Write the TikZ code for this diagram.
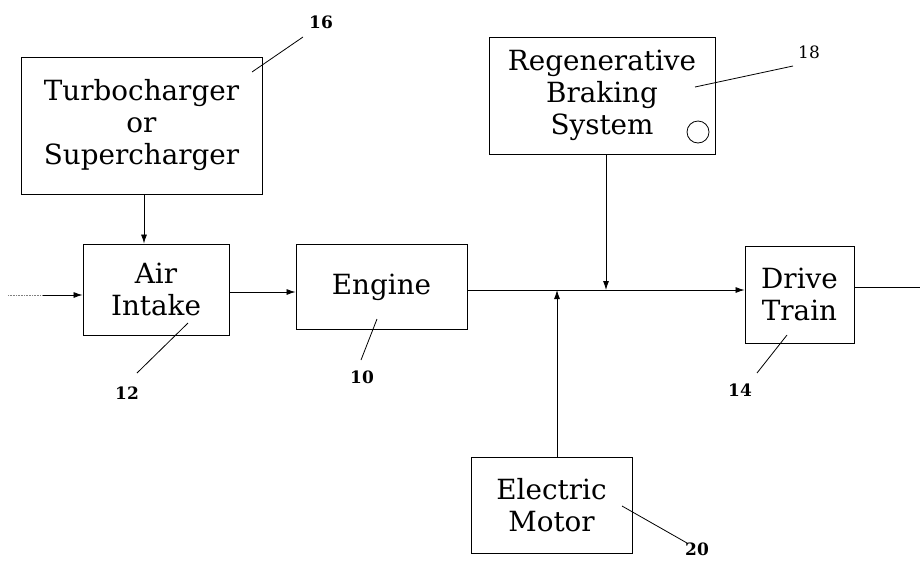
\documentclass[tikz,border=0pt]{standalone}
\usepackage{fontspec}
\setmainfont{DejaVu Serif}
\usetikzlibrary{arrows.meta}
\tikzset{
  box/.style={draw, line width=0.9pt, rectangle, inner sep=0pt, align=center,
              font=\fontsize{27.8}{32}\selectfont},
  arr/.style={line width=0.8pt, -{Latex[length=9pt,width=6pt]}},
  wire/.style={line width=0.8pt},
  lead/.style={line width=0.8pt},
  refnum/.style={font=\fontsize{17}{20}\selectfont\bfseries, inner sep=0pt},
  refthin/.style={font=\fontsize{17}{20}\selectfont, inner sep=0pt}
}
\begin{document}
\begin{tikzpicture}[x=1pt,y=-1pt]
\useasboundingbox (0,0) rectangle (920,563);
% boxes
\node[box, minimum width=241, minimum height=137] (turbo) at (141.5,125.5) {Turbocharger\\or\\Supercharger};
\node[box, minimum width=146, minimum height=91] (air) at (156,289.5) {Air\\Intake};
\node[box, minimum width=171, minimum height=85] (engine) at (381.5,287) {Engine};
\node[box, minimum width=226, minimum height=117] (regen) at (602,95.5) {Regenerative\\Braking\\System};
\node[box, minimum width=109, minimum height=97] (drive) at (799.5,294.5) {Drive\\Train};
\node[box, minimum width=161, minimum height=96] (motor) at (551.5,505) {Electric\\Motor};
\node[draw, circle, line width=0.8pt, minimum size=22, inner sep=0pt] (knob) at (698,132) {};
% coordinates
\coordinate (bus) at (0,290);
\coordinate (in0) at (8,295);
\coordinate (in1) at (43,295);
\coordinate (out) at (920,287);
\coordinate (rj) at (606,290);
\coordinate (mj) at (557,290);
% connectors
\draw[densely dotted, line width=0.6pt, gray] (in0) -- (in1);
\draw[arr] (in1) -- (in1 -| air.west);
\draw[arr] ([xshift=2.5pt]turbo.south) -- ([xshift=2.5pt]turbo.south |- air.north);
\draw[arr] (air.east |- 0,292) -- (engine.west |- 0,292);
\draw[arr] (engine.east |- bus) -- (drive.west |- bus);
\draw[arr] (rj |- regen.south) -- (rj);
\draw[arr] (mj |- motor.north) -- (mj);
\draw[wire] (drive.east |- out) -- (out);
% reference numerals and leaders
\node[refnum] (l16) at (321,22) {16};
\draw[lead] (252,72) -- (303,37);
\node[refthin] (l18) at (809,52) {18};
\draw[lead] (695,87) -- (793,66);
\node[refnum] (l12) at (127,393) {12};
\draw[lead] (188,323) -- (137,373);
\node[refnum] (l10) at (362,377) {10};
\draw[lead] (377,319) -- (361,360);
\node[refnum] (l14) at (740,390) {14};
\draw[lead] (787,335) -- (757,373);
\node[refnum] (l20) at (697,549) {20};
\draw[lead] (622,506) -- (687,543);
\end{tikzpicture}
\end{document}
